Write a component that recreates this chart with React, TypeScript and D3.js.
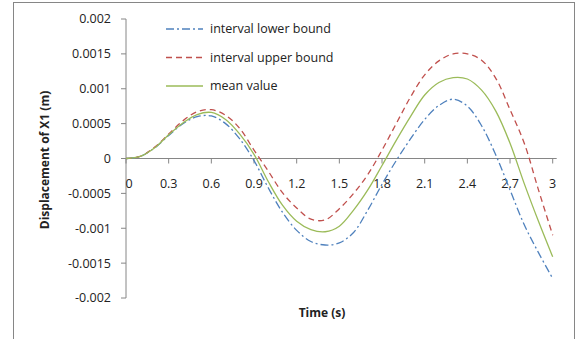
import React from "react";
import * as d3 from "d3";

const times = [0, 0.1, 0.2, 0.3, 0.4, 0.5, 0.6, 0.7, 0.8, 0.9, 1.0, 1.1, 1.2, 1.3, 1.4, 1.5, 1.6, 1.7, 1.8, 1.9, 2.0, 2.1, 2.2, 2.3, 2.4, 2.5, 2.6, 2.7, 2.8, 2.9, 3.0];

const lowerBound = [0, 0.00003, 0.00015, 0.00033, 0.0005, 0.0006, 0.00061, 0.0005, 0.00028, -0.00003, -0.00042, -0.00077, -0.00103, -0.00119, -0.00124, -0.00121, -0.00106, -0.00074, -0.00037, -0.00003, 0.00028, 0.00056, 0.00076, 0.00085, 0.00075, 0.00047, 0.00005, -0.00045, -0.00095, -0.00135, -0.00172];

const upperBound = [0, 0.00003, 0.00016, 0.00035, 0.00054, 0.00067, 0.0007, 0.00062, 0.00043, 0.00012, -0.00018, -0.00049, -0.00071, -0.00087, -0.00088, -0.00072, -0.0005, -0.00023, 0.00012, 0.0005, 0.00088, 0.0012, 0.0014, 0.0015, 0.0015, 0.00141, 0.00115, 0.0007, 0.00022, -0.00045, -0.0011];

const meanValue = [0, 0.00003, 0.00015, 0.00034, 0.00051, 0.00063, 0.00066, 0.00056, 0.00035, 0.00006, -0.00033, -0.00067, -0.0009, -0.00102, -0.00105, -0.00097, -0.00074, -0.00045, -0.0001, 0.00026, 0.0006, 0.00091, 0.00109, 0.00116, 0.00114, 0.00098, 0.00068, 0.00022, -0.00036, -0.0009, -0.00141];

const xTicks = [0, 0.3, 0.6, 0.9, 1.2, 1.5, 1.8, 2.1, 2.4, 2.7, 3];
const xTickLabels = ["0", "0.3", "0.6", "0.9", "1.2", "1.5", "1.8", "2.1", "2.4", "2.7", "3"];
const yTicks = [0.002, 0.0015, 0.001, 0.0005, 0, -0.0005, -0.001, -0.0015, -0.002];
const yTickLabels = ["0.002", "0.0015", "0.001", "0.0005", "0", "-0.0005", "-0.001", "-0.0015", "-0.002"];

const seriesNames = ["interval lower bound", "interval upper bound", "mean value"];
const seriesColors = ["#4F81BD", "#C0504D", "#9BBB59"];
const seriesDash = ["8,3,2,3", "6,4", ""];
const seriesData = [lowerBound, upperBound, meanValue];

const FONT = "'Open Sans', 'Noto Sans', sans-serif";

export default function App() {
  const W = 587;
  const H = 339;
  const x = d3.scaleLinear().domain([0, 3]).range([126, 552.7]);
  const y = d3.scaleLinear().domain([-0.002, 0.002]).range([298, 19]);
  const axisColor = "#868686";

  const line = d3
    .line<number>()
    .x((_, i) => x(times[i]))
    .y((d) => y(d))
    .curve(d3.curveCatmullRom.alpha(0.5));

  const legendY = [29, 57.5, 86];

  return (
    <svg
      width={W}
      height={H}
      style={{ position: "absolute", left: 0, top: 0, background: "#fff" }}
      fontFamily={FONT}
    >
      <rect x={0} y={0} width={W} height={H} fill="#fff" />
      <rect x={13.5} y={2.5} width={561} height={360} fill="#fff" stroke={axisColor} strokeWidth={1} />

      {/* y axis */}
      <line x1={x(0)} x2={x(0)} y1={y(0.002)} y2={y(-0.002)} stroke={axisColor} strokeWidth={1} />
      {yTicks.map((t, i) => (
        <g key={"yt" + i}>
          <line x1={x(0) - 5} x2={x(0)} y1={y(t)} y2={y(t)} stroke={axisColor} strokeWidth={1} />
          <text x={111} y={y(t)} dy="0.35em" textAnchor="end" fontSize={12.5} fill="#222">
            {yTickLabels[i]}
          </text>
        </g>
      ))}

      {/* x axis */}
      <line x1={x(0)} x2={x(3) + 4} y1={y(0)} y2={y(0)} stroke={axisColor} strokeWidth={1} />
      {xTicks.map((t, i) => (
        <g key={"xt" + i}>
          <line x1={x(t)} x2={x(t)} y1={y(0)} y2={y(0) + 5} stroke={axisColor} strokeWidth={1} />
          <text x={x(t) + (i === 0 ? 3 : 0)} y={184} dy="0.35em" textAnchor="middle" fontSize={12.5} fill="#222">
            {xTickLabels[i]}
          </text>
        </g>
      ))}

      {/* series */}
      {seriesData.map((s, i) => (
        <path
          key={"s" + i}
          d={line(s) || ""}
          fill="none"
          stroke={seriesColors[i]}
          strokeWidth={1.3}
          strokeDasharray={seriesDash[i]}
        />
      ))}

      {/* legend */}
      {seriesNames.map((n, i) => (
        <g key={"lg" + i}>
          <line
            x1={166}
            x2={203}
            y1={legendY[i]}
            y2={legendY[i]}
            stroke={seriesColors[i]}
            strokeWidth={1.3}
            strokeDasharray={seriesDash[i]}
          />
          <text x={210} y={legendY[i]} dy="0.35em" fontSize={12.5} fill="#222">
            {n}
          </text>
        </g>
      ))}

      {/* axis titles */}
      <text
        transform={`translate(45,${160}) rotate(-90)`}
        textAnchor="middle"
        dy="0.35em"
        fontSize={12}
        fontWeight="bold"
        fill="#222"
      >
        Displacement of X1 (m)
      </text>
      <text x={322} y={313} dy="0.35em" textAnchor="middle" fontSize={12} fontWeight="bold" fill="#222">
        Time (s)
      </text>
    </svg>
  );
}
